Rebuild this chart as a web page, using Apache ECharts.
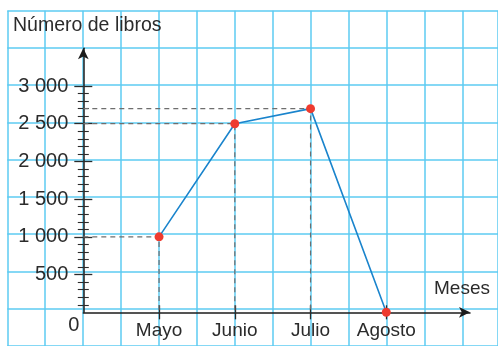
<!DOCTYPE html>
<html>
<head>
<meta charset="utf-8">
<script src="https://cdn.jsdelivr.net/npm/echarts@6/dist/echarts.min.js"></script>
<style>
  html, body { margin: 0; padding: 0; background: #fff; }
  #chart { width: 498px; height: 346px; }
</style>
</head>
<body>
<div id="chart"></div>
<script>
// Libros por mes
const months = ['', 'Mayo', 'Junio', 'Julio', 'Agosto'];
const books = ['-', 1000, 2500, 2700, 0];
const yTickLabels = ['0', '500', '1 000', '1 500', '2 000', '2 500', '3 000'];
const yTitle = 'Número de libros';
const xTitle = 'Meses';

const FONT = "'Liberation Sans', Arial, sans-serif";
const INK = '#2b2b2b';
const PAPER = '#5ccbf2';

// graph-paper background grid (one cell = 500 libros / medio mes)
const paperGrid = { left: 7.3, top: 10.7, right: 0, bottom: -4 };
// axis lines with arrows
const axisGrid = { left: 83.3, top: 48.3, right: 28, bottom: 33.7 };
// tick marks, labels and data
const dataGrid = { left: 83.3, top: 86, right: 111.7, bottom: 33.7 };

const hidden = { axisLine: { show: false }, axisTick: { show: false }, axisLabel: { show: false }, splitLine: { show: false } };

function yTickAxis(inside) {
  return {
    type: 'value', gridIndex: 2, min: 0, max: 3000, interval: 500, position: 'left', offset: 0,
    axisLine: { show: false },
    axisTick: { show: true, inside: inside, length: 9, lineStyle: { color: INK, width: 1.3 },
      customValues: [500, 1000, 1500, 2000, 2500, 3000] },
    minorTick: { show: true, splitNumber: 5, length: 5.5, lineStyle: { color: INK, width: 1.1 } },
    splitLine: { show: false },
    axisLabel: inside ? { show: false } : {
      show: true, margin: 4, color: INK, fontFamily: FONT, fontSize: 20,
      formatter: v => {
        const s = yTickLabels[Math.round(v / 500)];
        return v === 0 ? '{z|' + s + '}' : '{n|' + s + '}';
      },
      rich: {
        n: { fontSize: 20, fontFamily: FONT, color: INK, padding: [0, 11, 0, 0] },
        z: { fontSize: 20, fontFamily: FONT, color: INK, padding: [26, 0, 0, 0] }
      }
    }
  };
}

function xTickAxis(inside) {
  return {
    type: 'category', gridIndex: 2, data: months, boundaryGap: false, position: 'bottom', offset: 0,
    axisLine: { show: false },
    axisTick: { show: true, inside: inside, length: 7, interval: i => i > 0, lineStyle: { color: INK, width: 1.3 } },
    splitLine: { show: false },
    axisLabel: inside ? { show: false } : {
      show: true, margin: 9, color: INK, fontFamily: FONT, fontSize: 19, interval: 0
    }
  };
}

// dashed guides from each point to both axes
const guides = [];
books.forEach((v, i) => {
  if (typeof v === 'number' && v > 0) {
    guides.push({
      type: 'line', xAxisIndex: 2, yAxisIndex: 2, silent: true, symbol: 'none', z: 3,
      data: [[0, v], [i, v], [i, 0]],
      lineStyle: { color: '#6e6e6e', width: 1.2, type: [5, 4] }
    });
  }
});

const axisLineStyle = { color: '#1c1c1c', width: 1.5 };

const option = {
  animation: false,
  backgroundColor: '#fff',
  title: [
    { text: yTitle, left: 13, top: 16, padding: 0,
      textStyle: { fontFamily: FONT, fontSize: 19.5, fontWeight: 'normal', color: INK } },
    { text: xTitle, left: 434, top: 279, padding: 0,
      textStyle: { fontFamily: FONT, fontSize: 19, fontWeight: 'normal', color: INK } }
  ],
  grid: [paperGrid, axisGrid, dataGrid],
  xAxis: [
    Object.assign({}, hidden, {
      type: 'value', gridIndex: 0, min: -1, max: 5.47, interval: 0.5,
      splitLine: { show: true, lineStyle: { color: PAPER, width: 1.5 } }
    }),
    Object.assign({}, hidden, {
      type: 'value', gridIndex: 1, min: 0, max: 5.1,
      axisLine: { show: true, symbol: ['none', 'arrow'], symbolSize: [8, 11], lineStyle: axisLineStyle }
    }),
    xTickAxis(false),
    xTickAxis(true)
  ],
  yAxis: [
    Object.assign({}, hidden, {
      type: 'value', gridIndex: 0, min: -500, max: 4000, interval: 500,
      splitLine: { show: true, lineStyle: { color: PAPER, width: 1.5 } }
    }),
    Object.assign({}, hidden, {
      type: 'value', gridIndex: 1, min: 0, max: 3500,
      axisLine: { show: true, symbol: ['none', 'arrow'], symbolSize: [8, 11], lineStyle: axisLineStyle }
    }),
    yTickAxis(false),
    yTickAxis(true)
  ],
  series: guides.concat([{
    type: 'line', xAxisIndex: 2, yAxisIndex: 2, z: 5,
    data: books,
    symbol: 'circle', symbolSize: 9, showAllSymbol: true,
    lineStyle: { color: '#1a84cc', width: 1.6 },
    itemStyle: { color: '#ee3b2f', borderWidth: 0 }
  }])
};

const chart = echarts.init(document.getElementById('chart'), null, { renderer: 'canvas' });
chart.setOption(option);
</script>
</body>
</html>
